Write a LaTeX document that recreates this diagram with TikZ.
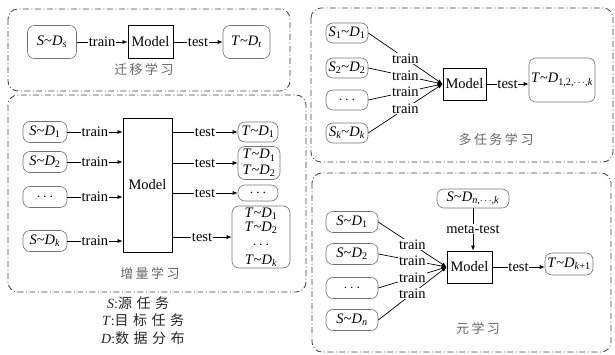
\documentclass[tikz,border=0pt]{standalone}
\usepackage{fontspec}
\setmainfont{Liberation Serif}
\newfontfamily\cjk{Noto Sans CJK SC}
\usetikzlibrary{arrows.meta}

% S~D_x style labels
\newcommand\pair[3]{\textit{#1}\textasciitilde\textit{#2}\textsubscript{#3}}
\newcommand\gp{\hspace{2.5pt}}
\newcommand\lgp{\hspace{4.5pt}}

\tikzset{
  panel/.style={draw=black!75, line width=0.8pt, rounded corners=10pt,
    dash pattern=on 6pt off 2.5pt on 1pt off 2.5pt},
  dnode/.style={draw=black!55, line width=0.6pt, rounded corners=7pt,
    inner sep=1pt, align=center, font=\fontsize{14.5}{17}\selectfont},
  model/.style={draw, line width=0.8pt, inner sep=1pt,
    font=\fontsize{14.5}{17}\selectfont},
  lbl/.style={fill=white, inner sep=0.8pt, font=\fontsize{14.5}{17}\selectfont},
  arr/.style={line width=0.7pt, -{Latex[length=5pt,width=4pt]}},
  ptitle/.style={text=black!60, font=\cjk\fontsize{13}{14}\selectfont},
  legend/.style={text=black!85, anchor=west, inner sep=0pt,
    font=\fontsize{14}{16}\selectfont},
}

\begin{document}
\begin{tikzpicture}[x=1pt, y=-1pt]
\useasboundingbox (0,0) rectangle (615,355);

% ---------------- transfer learning ----------------
\draw[panel] (8,9) rectangle (290,91);
\node[dnode, minimum width=49pt, minimum height=33pt] (tsrc) at (52,42) {\pair{S}{D}{\textit{s}}};
\node[model, minimum width=45pt, minimum height=33pt] (tm) at (150.5,42) {Model};
\node[dnode, minimum width=47pt, minimum height=33pt] (ttgt) at (246.5,42) {\pair{T}{D}{\textit{t}}};
\draw[arr] (tsrc) -- node[lbl]{train} (tm);
\draw[arr] (tm) -- node[lbl]{test} (ttgt);
\node[ptitle] (ttitle) at (144,70) {迁\gp 移\gp 学\gp 习};

% ---------------- incremental learning ----------------
\draw[panel] (8,95) rectangle (306,292);
\node[dnode, minimum width=44pt, minimum height=21pt] (ia1) at (45,132) {\pair{S}{D}{1}};
\node[dnode, minimum width=44pt, minimum height=21pt] (ia2) at (45,162) {\pair{S}{D}{2}};
\node[dnode, minimum width=44pt, minimum height=21pt] (ia3) at (45,197) {$\cdots$};
\node[dnode, minimum width=44pt, minimum height=21pt] (ia4) at (45,241) {\pair{S}{D}{\textit{k}}};
\node[model, minimum width=49pt, minimum height=134pt] (im) at (147.5,185) {Model};
\foreach \i in {1,...,4}
  \draw[arr] (ia\i.east) -- node[lbl]{train} (ia\i.east -| im.west);

\node[dnode, minimum width=40pt, minimum height=20pt] (ib1) at (258,132) {\pair{T}{D}{1}};
\node[dnode, minimum width=42pt, minimum height=33pt] (ib2) at (259,163)
  {\pair{T}{D}{1}\\[-1.5pt]\pair{T}{D}{2}};
\node[dnode, minimum width=40pt, minimum height=16pt] (ib3) at (258,193) {$\cdots$};
\node[dnode, minimum width=58pt, minimum height=62pt,
  font=\fontsize{14.5}{14}\selectfont] (ib4) at (261,237)
  {\pair{T}{D}{1}\\\pair{T}{D}{2}\\[3.5pt]$\cdots$\\[1.5pt]\pair{T}{D}{\textit{k}}};
\foreach \i in {1,...,4}
  \draw[arr] (im.east |- ib\i.west) -- node[lbl]{test} (ib\i.west);
\node[ptitle] (ititle) at (150,273) {增\gp 量\gp 学\gp 习};

% legend
\node[legend] (lgs) at (107,303) {\textit{S}:{\cjk 源\lgp 任\lgp 务}};
\node[legend] (lgt) at (102,320) {\textit{T}:{\cjk 目\lgp 标\lgp 任\lgp 务}};
\node[legend] (lgd) at (101,338) {\textit{D}:{\cjk 数\lgp 据\lgp 分\lgp 布}};

% ---------------- multi-task learning ----------------
\draw[panel] (311,8) rectangle (613,162);
\node[dnode, minimum width=42pt, minimum height=20pt] (ma1) at (347,33) {\textit{S}\textsubscript{1}\textasciitilde\textit{D}\textsubscript{1}};
\node[dnode, minimum width=42pt, minimum height=20pt] (ma2) at (347,68) {\textit{S}\textsubscript{2}\textasciitilde\textit{D}\textsubscript{2}};
\node[dnode, minimum width=42pt, minimum height=20pt] (ma3) at (347,100) {$\cdots$};
\node[dnode, minimum width=42pt, minimum height=20pt] (ma4) at (347,133) {\textit{S}\textsubscript{\textit{k}}\textasciitilde\textit{D}\textsubscript{\textit{k}}};
\node[model, minimum width=43pt, minimum height=32pt] (mm) at (464.5,84) {Model};
\foreach \i in {1,...,4}
  \draw[arr] (ma\i.east) -- node[lbl]{train} (mm.west);
\node[dnode, minimum width=66pt, minimum height=44pt] (mt) at (562,80)
  {\pair{T}{D}{1,2,$\cdots$,\textit{k}}};
\draw[arr] (mm.east) -- node[lbl]{test} (mm.east -| mt.west);
\node[ptitle] (mtitle) at (496,140) {多\gp 任\gp 务\gp 学\gp 习};

% ---------------- meta learning ----------------
\draw[panel] (312,173) rectangle (611,352);
\node[dnode, minimum width=52pt, minimum height=21pt] (ea1) at (352,222) {\pair{S}{D}{1}};
\node[dnode, minimum width=52pt, minimum height=21pt] (ea2) at (352,254) {\pair{S}{D}{2}};
\node[dnode, minimum width=52pt, minimum height=21pt] (ea3) at (352,288) {$\cdots$};
\node[dnode, minimum width=52pt, minimum height=21pt] (ea4) at (352,320) {\pair{S}{D}{\textit{n}}};
\node[model, minimum width=45pt, minimum height=32pt] (em) at (469.5,267) {Model};
\foreach \i in {1,...,4}
  \draw[arr] (ea\i.east) -- node[lbl]{train} (em.west);
\node[dnode, minimum width=72pt, minimum height=19pt] (etop) at (473,198.5)
  {\pair{S}{D}{\textit{n},$\cdots$,\textit{k}}};
\draw[arr] (etop.south) -- node[lbl]{meta-test} (etop.south |- em.north);
\node[dnode, minimum width=48pt, minimum height=22pt] (et) at (569,264)
  {\pair{T}{D}{\textit{k}+1}};
\draw[arr] (em.east) -- node[lbl]{test} (em.east -| et.west);
\node[ptitle] (etitle) at (478,328) {元\gp 学\gp 习};
\end{tikzpicture}
\end{document}
